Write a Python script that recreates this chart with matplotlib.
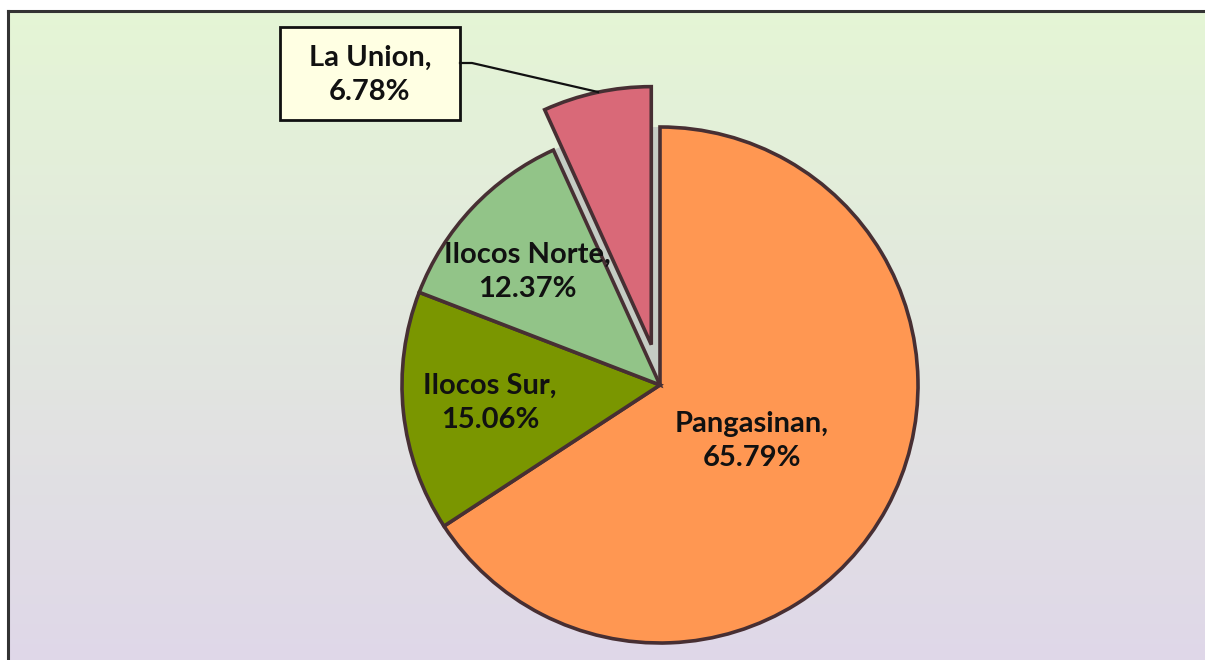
import numpy as np
import matplotlib.pyplot as plt
from matplotlib.patches import Wedge, Rectangle

plt.rcParams['font.family'] = ['Lato', 'DejaVu Sans']

# data
regions = ["Pangasinan", "Ilocos Sur", "Ilocos Norte", "La Union"]
shares = [65.79, 15.06, 12.37, 6.78]
colors = ["#FF9752", "#7A9600", "#92C488", "#D96978"]
explode = [0, 0, 0, 0.16]

W, H = 1205, 660
fig = plt.figure(figsize=(W / 100, H / 100), dpi=100)
ax = fig.add_axes([0, 0, 1, 1])

# background gradient, green on top to lavender at bottom (drawn as thin bands)
top = np.array([228, 245, 213]) / 255
bot = np.array([223, 215, 232]) / 255
nb = 130
edges = np.linspace(H - 11, 0, nb + 1)
for i in range(nb):
    f = i / (nb - 1)
    ax.add_patch(Rectangle((8, edges[i + 1]), W + 20, edges[i] - edges[i + 1] + 0.6,
                           facecolor=top * (1 - f) + bot * f, edgecolor="none",
                           antialiased=False, zorder=0))
ax.plot([8, 8], [-5, H - 11], color="#333333", lw=2.2, zorder=1)
ax.plot([8, W + 20], [H - 11, H - 11], color="#333333", lw=2.2, zorder=1)

cx, cy, r = 660, H - 385, 258

# shadow where la union slice was before pulling it out
start = 90 + 360 * shares[3] / 100
ax.add_patch(Wedge((cx, cy), r, 90, start, facecolor="#C5CCC4", edgecolor="none", zorder=2))

wedges, _ = ax.pie(shares, colors=colors, explode=[e * r for e in explode], startangle=90,
                   counterclock=False, center=(cx, cy), radius=r,
                   wedgeprops=dict(edgecolor="#472F33", linewidth=2.6))
for w in wedges:
    w.set_zorder(3)
ax.set_xlim(0, W)
ax.set_ylim(0, H)
ax.axis("off")

fs = 21
txt = dict(fontsize=fs, fontweight="bold", ha="center", va="center",
           color="#111111", linespacing=1.4, zorder=5)
ax.text(752, H - 441, f"{regions[0]},\n{shares[0]:.2f}%", **txt)
ax.text(490, H - 403, f"{regions[1]},\n{shares[1]:.2f}%", **txt)
ax.text(527, H - 272, f"{regions[2]},\n{shares[2]:.2f}%", **txt)

# callout box for the pulled-out slice
ax.add_patch(Rectangle((280, H - 120), 180, 93, facecolor="#FFFFE3",
                       edgecolor="#111111", linewidth=2, zorder=4))
ax.text(370, H - 75, f"{regions[3]},\n{shares[3]:.2f}%", **txt)
ax.plot([460, 472, 598], [H - 63, H - 63, H - 92], color="#111111", lw=1.6, zorder=4)

fig.savefig("out.png", dpi=100)
